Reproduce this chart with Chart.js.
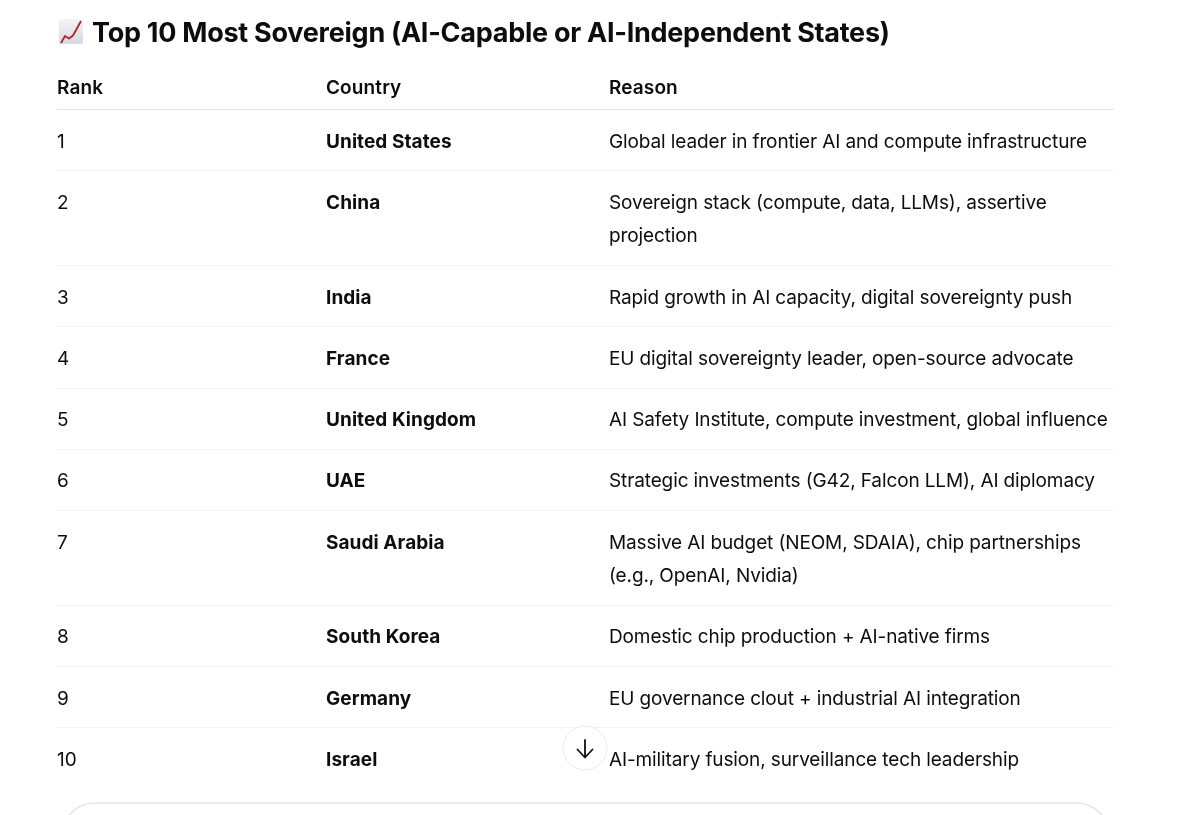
<!DOCTYPE html>
<html><head><meta charset="utf-8">
<style>html,body{margin:0;padding:0;background:#fff}canvas{display:block}</style>
<script src="https://cdn.jsdelivr.net/npm/chart.js@4"></script>
</head><body>
<canvas id="c" width="1200" height="815"></canvas>
<script>
const titleText = "Top 10 Most Sovereign (AI-Capable or AI-Independent States)";
const headers = ["Rank", "Country", "Reason"];
const ranks = ["1","2","3","4","5","6","7","8","9","10"];
const countries = ["United States","China","India","France","United Kingdom","UAE","Saudi Arabia","South Korea","Germany","Israel"];
const reasons = [
  ["Global leader in frontier AI and compute infrastructure"],
  ["Sovereign stack (compute, data, LLMs), assertive","projection"],
  ["Rapid growth in AI capacity, digital sovereignty push"],
  ["EU digital sovereignty leader, open-source advocate"],
  ["AI Safety Institute, compute investment, global influence"],
  ["Strategic investments (G42, Falcon LLM), AI diplomacy"],
  ["Massive AI budget (NEOM, SDAIA), chip partnerships","(e.g., OpenAI, Nvidia)"],
  ["Domestic chip production + AI-native firms"],
  ["EU governance clout + industrial AI integration"],
  ["AI-military fusion, surveillance tech leadership"]
];

const FONT = 'Inter, "Noto Sans", sans-serif';
const INK = '#0d0d0d';
const colX = [0, 269, 552];
const headY = 88, headLine = 109.5, rowH = 61.25, lineH = 33.5, firstOffset = 32.5;

// row layout from the number of text lines in each row
const rowLines = [], rowTops = [];
let cursor = headLine;
reasons.forEach(r => {
  rowTops.push(cursor);
  cursor += rowH + (r.length - 1) * lineH;
  rowLines.push(cursor);
});
const separators = [headLine, ...rowLines.slice(0, -1)];

const rankPts = ranks.map((t,i)=>({x:colX[0], y:rowTops[i]+firstOffset, t}));
const countryPts = countries.map((t,i)=>({x:colX[1], y:rowTops[i]+firstOffset, t}));
const reasonPts = reasons.flatMap((ls,i)=>ls.map((t,j)=>({x:colX[2], y:rowTops[i]+firstOffset+j*lineH, t})));
const headPts = headers.map((t,i)=>({x:colX[i], y:headY, t}));

const tablePlugin = {
  id:'tableText',
  afterDatasetsDraw(chart){
    const {ctx, scales:{x,y}} = chart;
    ctx.save();
    ctx.textBaseline='middle'; ctx.textAlign='left'; ctx.fillStyle=INK;
    chart.data.datasets.forEach(ds=>{
      ctx.font = ds.textFont;
      ctx.letterSpacing = ds.spacing || '0px';
      ds.data.forEach(p=>ctx.fillText(p.t, x.getPixelForValue(p.x), y.getPixelForValue(p.y)));
    });
    ctx.letterSpacing='0px';

    // title
    ctx.font = '700 27px '+FONT;
    ctx.letterSpacing='-0.26px';
    ctx.fillText(titleText, 92, 34);
    ctx.letterSpacing='0px';

    // chart emoji icon
    const g = ctx.createLinearGradient(0,19,0,44);
    g.addColorStop(0,'#f4f5f8'); g.addColorStop(1,'#d5d8e0');
    ctx.fillStyle=g;
    ctx.beginPath(); ctx.roundRect(59,19,24,25,1.5); ctx.fill();
    ctx.strokeStyle='#b3222c'; ctx.lineWidth=1.8; ctx.lineJoin='round';
    ctx.beginPath();
    ctx.moveTo(61,43); ctx.lineTo(65,36); ctx.lineTo(69,38.5); ctx.lineTo(73,35.5); ctx.lineTo(81,21);
    ctx.stroke();

    // scroll button
    ctx.beginPath(); ctx.arc(585,748,22,0,Math.PI*2);
    ctx.fillStyle='#fff'; ctx.fill();
    ctx.strokeStyle='#ececec'; ctx.lineWidth=1; ctx.stroke();
    ctx.strokeStyle='#111'; ctx.lineWidth=1.8; ctx.lineCap='round'; ctx.lineJoin='round';
    ctx.beginPath();
    ctx.moveTo(585,740); ctx.lineTo(585,757);
    ctx.moveTo(577.5,749.5); ctx.lineTo(585,757.5); ctx.lineTo(592.5,749.5);
    ctx.stroke();

    // composer box top edge
    ctx.strokeStyle='#e6e6e6'; ctx.lineWidth=1.5;
    ctx.beginPath(); ctx.roundRect(61,803,1049,80,34); ctx.stroke();
    ctx.restore();
  }
};

new Chart(document.getElementById('c'), {
  type:'scatter',
  data:{datasets:[
    {label:'Header', data:headPts, textFont:'600 19px '+FONT, spacing:'0.12px', pointRadius:0},
    {label:'Rank', data:rankPts, textFont:'400 19px '+FONT, spacing:'-0.1px', pointRadius:0},
    {label:'Country', data:countryPts, textFont:'700 19px '+FONT, spacing:'0.07px', pointRadius:0},
    {label:'Reason', data:reasonPts, textFont:'400 19px '+FONT, spacing:'-0.12px', pointRadius:0}
  ]},
  options:{
    responsive:false, animation:false, events:[],
    layout:{padding:{left:57,right:86,top:0,bottom:0}},
    plugins:{legend:{display:false},tooltip:{enabled:false},title:{display:false}},
    scales:{
      x:{type:'linear',min:0,max:1057,display:false},
      y:{type:'linear',min:0,max:815,reverse:true,display:true,
        afterBuildTicks(s){s.ticks=separators.map(v=>({value:v}));},
        ticks:{display:false},
        grid:{drawTicks:false,lineWidth:1,color:c=>c.tick&&c.tick.value===headLine?'#e3e3e3':'#f3f3f3'},
        border:{display:false}}
    }
  },
  plugins:[tablePlugin]
});
</script>
</body></html>
